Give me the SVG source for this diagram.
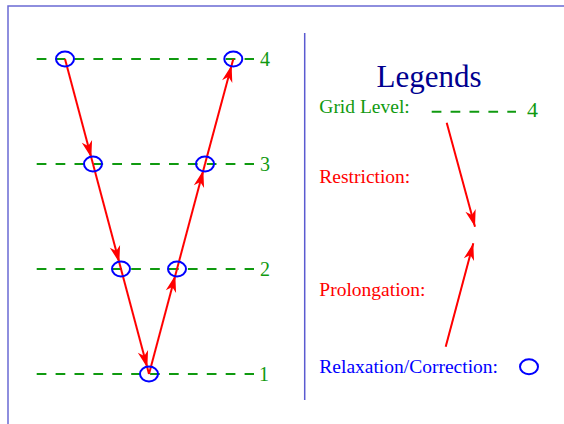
<svg xmlns="http://www.w3.org/2000/svg" width="564" height="424" viewBox="0 0 564 424">
<defs>
<marker id="ah" markerUnits="userSpaceOnUse" orient="auto" refX="6.5" refY="0" markerWidth="40" markerHeight="40" overflow="visible">
<path d="M0,0 L-17,-5.3 L-12,0 L-17,5.3 Z" fill="#ff0000"/>
</marker>
<marker id="ah0" markerUnits="userSpaceOnUse" orient="auto" refX="0" refY="0" markerWidth="40" markerHeight="40" overflow="visible">
<path d="M0,0 L-17,-5.3 L-12,0 L-17,5.3 Z" fill="#ff0000"/>
</marker>
</defs>
<style>
.grid{stroke:#109a10;stroke-width:2;stroke-dasharray:9.7 9.2;fill:none}
.lvl{font-family:"Liberation Serif","Times New Roman",serif;font-size:20px;fill:#109a10}
.node{fill:none;stroke:#0000ff;stroke-width:2}
.arr{stroke:#ff0000;stroke-width:2;fill:none;marker-end:url(#ah)}
.arr0{stroke:#ff0000;stroke-width:2;fill:none;marker-end:url(#ah0)}
.lt{font-family:"Liberation Serif","Times New Roman",serif;font-size:19.5px}
</style>
<rect x="8" y="6" width="700" height="600" fill="none" stroke="#6a6ad4" stroke-width="1.5"/>
<line x1="304.7" y1="33" x2="304.7" y2="400" stroke="#5a5ad0" stroke-width="1.5"/>
<g id="grid-levels">
<line class="grid" x1="36.7" y1="59" x2="254" y2="59"/>
<line class="grid" x1="36.7" y1="164" x2="254" y2="164"/>
<line class="grid" x1="36.7" y1="269" x2="254" y2="269"/>
<line class="grid" x1="36.7" y1="374" x2="254" y2="374"/>
<text class="lvl" x="260" y="66">4</text>
<text class="lvl" x="260" y="171">3</text>
<text class="lvl" x="260" y="276">2</text>
<text class="lvl" x="259" y="381">1</text>
</g>
<g id="connectors">
<line class="arr" x1="65" y1="59" x2="93" y2="164"/>
<line class="arr" x1="93" y1="164" x2="121" y2="269"/>
<line class="arr" x1="121" y1="269" x2="149" y2="374"/>
<line class="arr" x1="149" y1="374" x2="177" y2="269"/>
<line class="arr" x1="177" y1="269" x2="205" y2="164"/>
<line class="arr" x1="205" y1="164" x2="233.3" y2="59"/>
</g>
<g id="n4a"><ellipse class="node" cx="65" cy="59" rx="9" ry="7.5"/></g>
<g id="n3a"><ellipse class="node" cx="93" cy="164" rx="9" ry="7.5"/></g>
<g id="n2a"><ellipse class="node" cx="121" cy="269" rx="9" ry="7.5"/></g>
<g id="n1"><ellipse class="node" cx="149" cy="374" rx="9" ry="7.5"/></g>
<g id="n2b"><ellipse class="node" cx="177" cy="269" rx="9" ry="7.5"/></g>
<g id="n3b"><ellipse class="node" cx="205" cy="164" rx="9" ry="7.5"/></g>
<g id="n4b"><ellipse class="node" cx="233.3" cy="59" rx="9" ry="7.5"/></g>
<g id="legend">
<text x="429" y="86.5" text-anchor="middle" font-family="Liberation Serif, Times New Roman, serif" font-size="31" fill="#00008f">Legends</text>
<text class="lt" x="319.3" y="112.5" fill="#109a10">Grid Level:</text>
<line class="grid" x1="431.7" y1="111.7" x2="516" y2="111.7"/>
<text x="527" y="116.7" font-family="Liberation Serif, Times New Roman, serif" font-size="22" fill="#109a10">4</text>
<text class="lt" x="319.3" y="182.7" fill="#ff0000">Restriction:</text>
<line class="arr0" x1="446.7" y1="122.7" x2="475" y2="226.7"/>
<text class="lt" x="319.3" y="296" fill="#ff0000">Prolongation:</text>
<line class="arr0" x1="445.7" y1="346.7" x2="473.3" y2="243.3"/>
<text class="lt" x="319.3" y="373.3" fill="#0000ff">Relaxation/Correction:</text>
<ellipse class="node" cx="529" cy="366.7" rx="9" ry="7.5"/>
</g>
</svg>
